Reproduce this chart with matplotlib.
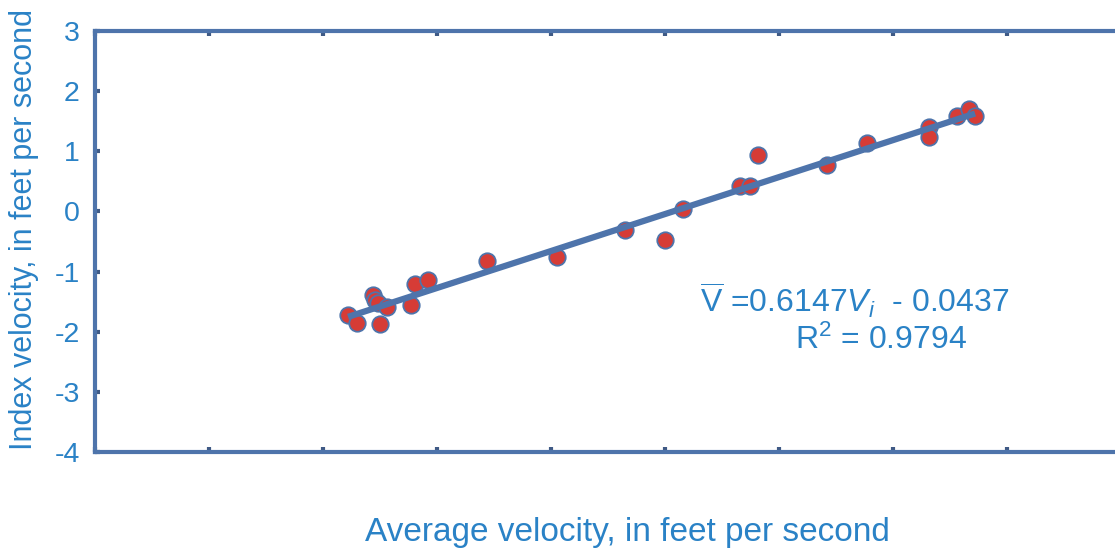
import numpy as np
import matplotlib
matplotlib.use("Agg")
import matplotlib.pyplot as plt

# average velocity (x) and index velocity (y), feet per second
avg_vel = [-2.78, -2.70, -2.56, -2.54, -2.52, -2.44, -2.50, -2.23, -2.19, -2.08,
           -1.56, -0.95, -0.35, 0.00, 0.16, 0.66, 0.75, 0.82, 1.42, 1.77,
           2.32, 2.32, 2.56, 2.67, 2.72]
index_vel = [-1.72, -1.86, -1.39, -1.47, -1.52, -1.59, -1.87, -1.56, -1.21, -1.14,
             -0.82, -0.76, -0.31, -0.48, 0.04, 0.42, 0.42, 0.94, 0.77, 1.14,
             1.40, 1.24, 1.59, 1.70, 1.59]
slope = 0.6147
intercept = -0.0437
r2 = 0.9794
y_ticks = [-4, -3, -2, -1, 0, 1, 2, 3]
x_ticks = [-5, -4, -3, -2, -1, 0, 1, 2, 3, 4]

txt_color = "#2a82c6"
axis_color = "#4e74ab"
tick_color = "#3f5a85"

plt.rcParams["font.family"] = ["Liberation Sans", "DejaVu Sans"]
plt.rcParams["axes.unicode_minus"] = False
plt.rcParams["mathtext.fontset"] = "custom"
plt.rcParams["mathtext.rm"] = "Liberation Sans"
plt.rcParams["mathtext.it"] = "Liberation Sans:italic"

W, H = 1115, 551
fig = plt.figure(figsize=(W / 100, H / 100), dpi=100)
ax = fig.add_axes([95 / W, (H - 452) / H, (1121 - 95) / W, (452 - 31) / H])

ax.scatter(avg_vel, index_vel, s=140, color="#d63c36", edgecolors=axis_color,
           linewidths=1.3, zorder=3)
xs = np.array([min(avg_vel), max(avg_vel)])
ax.plot(xs, slope * xs + intercept, color=axis_color, lw=4.5, zorder=4,
        solid_capstyle="butt")

ax.set_xlim(-5, 4)
ax.set_ylim(-4, 3)
ax.set_xticks(x_ticks)
ax.set_xticklabels([])
ax.set_yticks(y_ticks)
ax.set_yticklabels([str(t) for t in y_ticks])

for s in ax.spines.values():
    s.set_color(axis_color)
    s.set_linewidth(3)
ax.tick_params(axis="both", direction="in", length=3.5, width=3, color=tick_color,
               top=True, right=True)
ax.tick_params(axis="y", labelsize=20.5, labelcolor=txt_color, pad=11)

ax.text((700 - 665) / 114, (211.4 - 300) / 60.1,
        r"$\overline{\mathrm{V}}$ =0.6147$\mathit{V_i}$  - 0.0437",
        fontsize=23, color=txt_color, ha="left", va="center")
ax.text((795 - 665) / 114, (211.4 - 340) / 60.1, "R$^2$ = %.4f" % r2,
        fontsize=23, color=txt_color, ha="left", va="center")

fig.text(627 / W, 1 - 532 / H, "Average velocity, in feet per second",
         fontsize=24, color=txt_color, ha="center", va="center")
fig.text(24 / W, 1 - 229 / H, "Index velocity, in feet per second",
         fontsize=22, color=txt_color, ha="center", va="center", rotation=90)

fig.savefig("out.png", dpi=100)
